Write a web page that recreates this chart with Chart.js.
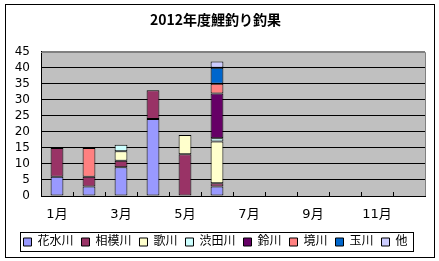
<!DOCTYPE html>
<html>
<head>
<meta charset="utf-8">
<script src="https://cdn.jsdelivr.net/npm/chart.js@4"></script>
<style>
  html, body { margin: 0; padding: 0; background: #fff; }
  #wrap { width: 439px; height: 261px; }
</style>
</head>
<body>
<div id="wrap"><canvas id="koiChart" width="439" height="261"></canvas></div>
<script>
// -----------------------------
// Data
// -----------------------------
const months = ["1月", "2月", "3月", "4月", "5月", "6月", "7月", "8月", "9月", "10月", "11月", "12月"];
const rivers = ["花水川", "相模川", "歌川", "渋田川", "鈴川", "境川", "玉川", "他"];
const riverColors = ["#9999FF", "#993366", "#FFFFCC", "#CCFFFF", "#660066", "#FF8080", "#0066CC", "#CCCCFF"];

const hanamizu = [6, 3, 9, 24, 0, 3, 0, 0, 0, 0, 0, 0];
const sagami   = [9, 3, 2, 9, 13, 1, 0, 0, 0, 0, 0, 0];
const uta      = [0, 0, 3, 0, 6, 13, 0, 0, 0, 0, 0, 0];
const shibuta  = [0, 0, 2, 0, 0, 1, 0, 0, 0, 0, 0, 0];
const suzu     = [0, 0, 0, 0, 0, 14, 0, 0, 0, 0, 0, 0];
const sakai    = [0, 9, 0, 0, 0, 3, 0, 0, 0, 0, 0, 0];
const tama     = [0, 0, 0, 0, 0, 5, 0, 0, 0, 0, 0, 0];
const other    = [0, 0, 0, 0, 0, 2, 0, 0, 0, 0, 0, 0];

const yMax = 45;
const yStep = 5;

const seriesValues = [hanamizu, sagami, uta, shibuta, suzu, sakai, tama, other];

const FONT = '"DejaVu Sans", "Noto Sans CJK JP", sans-serif';

// -----------------------------
// Frame / plot area decorations
// -----------------------------
const framePlugin = {
  id: "frame",
  beforeDraw(chart) {
    const { ctx, chartArea: a } = chart;
    ctx.save();
    ctx.fillStyle = "#fff";
    ctx.fillRect(0, 0, chart.width, chart.height);
    ctx.strokeStyle = "#000";
    ctx.lineWidth = 1;
    ctx.strokeRect(5.5, 4.5, 429, 253);
    ctx.fillStyle = "#C0C0C0";
    ctx.fillRect(a.left, a.top, a.right - a.left, a.bottom - a.top);
    ctx.restore();
  },
  beforeDatasetsDraw(chart) {
    const { ctx, chartArea: a } = chart;
    ctx.save();
    ctx.strokeStyle = "#808080";
    ctx.lineWidth = 1;
    ctx.beginPath();
    ctx.moveTo(a.left, Math.round(a.top) + 0.5);
    ctx.lineTo(Math.round(a.right) + 0.5, Math.round(a.top) + 0.5);
    ctx.lineTo(Math.round(a.right) + 0.5, a.bottom);
    ctx.stroke();
    ctx.restore();
  },
  afterDatasetsDraw(chart) {
    // short tick marks pointing up into the plot, between categories
    const { ctx, chartArea: a } = chart;
    const x = chart.scales.x;
    ctx.save();
    ctx.strokeStyle = "#000";
    ctx.lineWidth = 1;
    ctx.beginPath();
    for (let i = 1; i < months.length; i++) {
      const px = Math.round((x.getPixelForValue(i - 1) + x.getPixelForValue(i)) / 2) + 0.5;
      ctx.moveTo(px, a.bottom);
      ctx.lineTo(px, a.bottom - 4);
    }
    ctx.stroke();
    ctx.restore();
  },
  afterDraw(chart) {
    // box round the legend
    const boxes = chart.legend && chart.legend.legendHitBoxes;
    if (!boxes || !boxes.length) return;
    const left = Math.min(...boxes.map(b => b.left));
    const right = Math.max(...boxes.map(b => b.left + b.width));
    const mid = boxes[0].top + boxes[0].height / 2;
    const ctx = chart.ctx;
    ctx.save();
    ctx.strokeStyle = "#000";
    ctx.lineWidth = 1;
    ctx.strokeRect(Math.round(left - 3) + 0.5, Math.round(mid - 10) + 0.5, Math.round(right - left + 9), 19);
    ctx.restore();
  }
};

// -----------------------------
// Chart
// -----------------------------
new Chart(document.getElementById("koiChart"), {
  type: "bar",
  data: {
    labels: months,
    datasets: rivers.map((name, i) => ({
      label: name,
      data: seriesValues[i].map(v => v || null),
      backgroundColor: riverColors[i],
      borderColor: "#000",
      borderWidth: 1,
      borderSkipped: false,
      barPercentage: 0.4,
      categoryPercentage: 1
    }))
  },
  options: {
    responsive: false,
    animation: false,
    layout: { padding: { left: 6, right: 14, top: 0, bottom: 3 } },
    plugins: {
      title: {
        display: true,
        text: "2012年度鯉釣り釣果",
        color: "#000",
        font: { family: '"Noto Sans CJK JP", sans-serif', size: 14, weight: "bold" },
        padding: { top: 11, bottom: 24 }
      },
      legend: {
        position: "bottom",
        labels: {
          color: "#000",
          font: { family: FONT, size: 12 },
          boxWidth: 8,
          boxHeight: 8,
          padding: 8
        }
      },
      tooltip: { enabled: false }
    },
    scales: {
      x: {
        stacked: true,
        grid: { display: false, drawTicks: false },
        border: { display: true, color: "#000", width: 1 },
        ticks: {
          color: "#000",
          font: { family: FONT, size: 13 },
          padding: 11,
          autoSkip: false,
          maxRotation: 0,
          callback: (v, i) => (i % 2 === 0 ? months[i] : "")
        },
        afterFit: s => { s.height = 32; }
      },
      y: {
        stacked: true,
        min: 0,
        max: yMax,
        grid: {
          color: ctx => (ctx.tick && ctx.tick.value === yMax ? "#808080" : "#000"),
          lineWidth: 1,
          drawTicks: false
        },
        border: { display: true, color: "#000", width: 1 },
        ticks: {
          color: "#000",
          font: { family: FONT, size: 12 },
          padding: 11,
          stepSize: yStep,
          autoSkip: false
        },
        afterFit: s => { s.width = 35; }
      }
    }
  },
  plugins: [framePlugin]
});
</script>
</body>
</html>
